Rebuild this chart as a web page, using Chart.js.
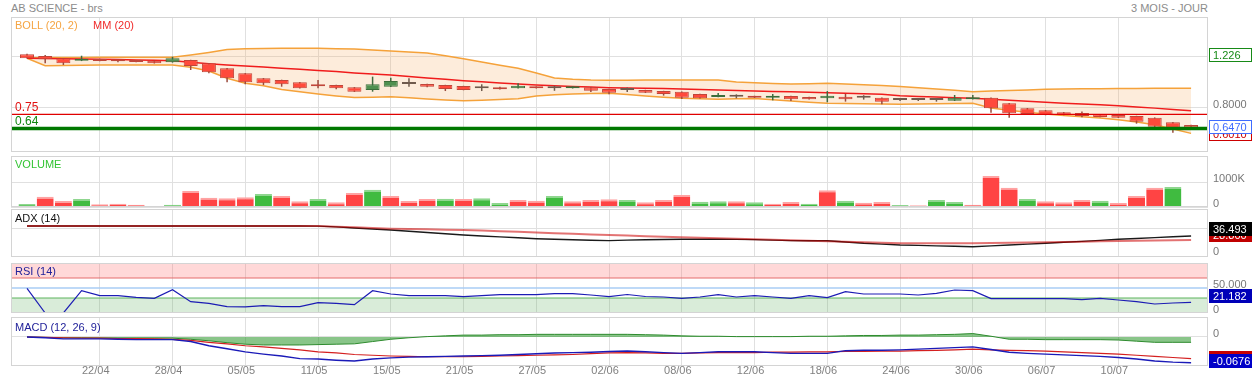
<!DOCTYPE html>
<html>
<head>
<meta charset="utf-8">
<title>AB SCIENCE - brs</title>
<script src="https://cdn.jsdelivr.net/npm/chart.js@4.4.1/dist/chart.umd.min.js"></script>
<style>
  html, body { margin: 0; padding: 0; background: #fff; }
  body { position: relative; width: 1253px; height: 379px; overflow: hidden;
         font-family: "Liberation Sans", Arial, sans-serif; }
  canvas { position: absolute; left: 0; }
  .t { position: absolute; font-size: 11px; line-height: 13px; white-space: nowrap; z-index: 2; }
</style>
</head>
<body>
<canvas id="price"></canvas>
<canvas id="volume"></canvas>
<canvas id="adx"></canvas>
<canvas id="rsi"></canvas>
<canvas id="macd"></canvas>

<div class="t" style="left:11px;top:2px;color:#8c8c8c">AB SCIENCE - brs</div>
<div class="t" style="right:45px;top:2px;color:#8c8c8c">3 MOIS - JOUR</div>
<div class="t" style="left:15px;top:19px;color:#f5a442">BOLL (20, 2)</div>
<div class="t" style="left:93px;top:19px;color:#f02a2a">MM (20)</div>
<div class="t" id="lblRes" style="left:15px;top:100px;font-size:12px;line-height:14px;color:#e01010"></div>
<div class="t" id="lblSup" style="left:15px;top:114px;font-size:12px;line-height:14px;color:#118811"></div>
<div class="t" style="left:15px;top:158px;color:#33c433">VOLUME</div>
<div class="t" style="left:15px;top:212px;color:#111">ADX (14)</div>
<div class="t" style="left:15px;top:265px;color:#22229a">RSI (14)</div>
<div class="t" style="left:15px;top:321px;color:#22229a">MACD (12, 26, 9)</div>

<script>
/* ── Data ──────────────────────────────────────────────── */
const DATES = [
    '16/04','17/04','20/04','21/04','22/04','23/04','24/04','27/04','28/04','29/04','30/04',
    '04/05','05/05','06/05','07/05','08/05','11/05','12/05','13/05','14/05','15/05','18/05','19/05',
    '20/05','21/05','22/05','25/05','26/05','27/05','28/05','29/05',
    '01/06','02/06','03/06','04/06','05/06','08/06','09/06','10/06','11/06','12/06','15/06','16/06',
    '17/06','18/06','19/06','22/06','23/06','24/06','25/06','26/06','29/06','30/06',
    '01/07','02/07','03/07','06/07','07/07','08/07','09/07','10/07','13/07','14/07','15/07','16/07'
];
const DATE_TICKS = [4, 8, 12, 16, 20, 24, 28, 32, 36, 40, 44, 48, 52, 56, 60];

const OPEN  = [1.221,1.208,1.190,1.171,1.184,1.176,1.171,1.171,1.158,1.176,1.151,1.111,1.072,1.033,1.020,1.002,
               0.978,0.980,0.962,0.941,0.967,0.988,0.988,0.980,0.972,0.955,0.959,0.955,0.967,0.955,0.955,0.962,
               0.949,0.941,0.941,0.933,0.928,0.910,0.886,0.889,0.894,0.881,0.894,0.886,0.876,0.889,0.881,0.881,
               0.863,0.863,0.863,0.857,0.868,0.881,0.837,0.798,0.782,0.766,0.761,0.751,0.745,0.737,0.724,0.688,0.667];
const HIGH  = [1.226,1.216,1.192,1.210,1.186,1.178,1.173,1.173,1.202,1.178,1.153,1.113,1.074,1.035,1.022,1.004,
               1.020,0.982,0.964,1.046,1.038,1.033,0.990,0.982,0.974,0.986,0.966,0.994,0.969,0.975,0.970,0.964,
               0.951,0.960,0.943,0.935,0.930,0.912,0.918,0.907,0.896,0.910,0.896,0.888,0.933,0.911,0.900,0.883,
               0.870,0.870,0.876,0.902,0.902,0.883,0.839,0.800,0.784,0.768,0.772,0.753,0.747,0.739,0.726,0.690,0.669];
const LOW   = [1.188,1.151,1.137,1.168,1.166,1.158,1.159,1.149,1.156,1.098,1.072,1.002,0.986,0.980,0.967,0.953,
               0.955,0.947,0.926,0.928,0.965,0.967,0.962,0.933,0.939,0.933,0.945,0.953,0.953,0.935,0.953,0.925,
               0.907,0.925,0.918,0.897,0.871,0.874,0.884,0.876,0.879,0.860,0.855,0.866,0.845,0.850,0.866,0.829,
               0.855,0.855,0.850,0.855,0.866,0.763,0.724,0.751,0.743,0.743,0.727,0.727,0.722,0.677,0.640,0.606,0.645];
const CLOSE = [1.190,1.182,1.151,1.184,1.169,1.166,1.161,1.151,1.190,1.129,1.080,1.033,1.002,0.994,0.986,0.955,
               0.970,0.955,0.928,0.986,1.012,0.988,0.967,0.949,0.941,0.955,0.947,0.975,0.955,0.955,0.967,0.936,
               0.920,0.941,0.920,0.910,0.881,0.876,0.902,0.889,0.881,0.897,0.868,0.868,0.897,0.868,0.881,0.849,
               0.863,0.863,0.863,0.881,0.884,0.798,0.758,0.753,0.745,0.745,0.737,0.729,0.724,0.693,0.653,0.641,0.647];

const BOLL_UP   = [1.195,1.196,1.197,1.197,1.198,1.198,1.198,1.198,1.198,1.215,1.235,1.258,1.264,1.267,1.268,1.268,
                   1.268,1.265,1.263,1.255,1.247,1.240,1.232,1.210,1.187,1.160,1.135,1.111,1.075,1.036,1.025,1.019,
                   1.017,1.018,1.019,1.020,1.020,1.020,1.020,1.004,0.998,0.993,0.988,0.991,0.994,0.988,0.982,0.976,
                   0.969,0.958,0.949,0.939,0.928,0.933,0.938,0.942,0.947,0.949,0.950,0.951,0.952,0.953,0.954,0.955,0.955];
const BOLL_DOWN = [1.190,1.132,1.134,1.136,1.137,1.137,1.137,1.137,1.137,1.120,1.090,1.033,0.994,0.975,0.945,0.928,
                   0.910,0.895,0.882,0.884,0.888,0.880,0.870,0.862,0.856,0.860,0.866,0.872,0.894,0.903,0.910,0.913,
                   0.915,0.905,0.895,0.884,0.876,0.872,0.868,0.872,0.875,0.865,0.855,0.845,0.837,0.835,0.833,0.831,
                   0.829,0.831,0.833,0.835,0.837,0.800,0.782,0.766,0.753,0.742,0.732,0.721,0.708,0.690,0.668,0.636,0.601];
const MM20      = [1.190,1.188,1.186,1.184,1.182,1.180,1.177,1.174,1.170,1.159,1.148,1.138,1.130,1.121,1.112,1.104,
                   1.095,1.086,1.075,1.067,1.059,1.048,1.036,1.025,1.014,1.005,0.997,0.988,0.980,0.975,0.969,0.964,
                   0.959,0.957,0.954,0.952,0.949,0.945,0.941,0.937,0.933,0.930,0.927,0.923,0.920,0.916,0.911,0.907,
                   0.897,0.891,0.886,0.881,0.876,0.868,0.860,0.853,0.845,0.838,0.832,0.825,0.818,0.808,0.799,0.789,0.779];
const RESIST  = 0.75;
const SUPPORT = 0.64;
const PRICE_TICKS = [0.8, 1.2];

const VOLUME_K  = [120,413,240,320,107,133,93,40,93,640,373,347,387,520,440,227,320,187,560,693,440,240,320,333,
                   320,347,160,280,253,440,227,280,307,280,187,280,480,213,227,227,187,133,200,133,667,253,173,200,
                   80,67,280,200,93,1240,773,320,227,187,280,253,160,440,773,800,27];
const VOLUME_UP = [1,0,0,1,0,0,0,0,1,0,0,0,0,1,0,0,1,0,0,1,0,0,0,1,0,1,1,0,0,1,0,0,0,1,0,0,0,1,1,0,
                   1,0,0,1,0,1,0,0,1,0,1,1,0,0,0,1,0,0,0,1,0,0,0,1,1];
const VOLUME_TICKS = [0, 1000];

const ADX     = [55.8,55.8,55.8,55.8,55.8,55.8,55.8,55.8,55.8,55.8,55.8,55.8,55.8,55.8,55.8,55.8,
                 55.6,54.0,51.9,50.0,48.1,45.7,43.2,40.8,38.4,36.6,34.8,33.0,31.3,30.3,29.3,28.4,
                 27.6,28.5,29.2,29.8,30.1,30.1,30.1,30.0,29.5,28.5,27.6,27.4,27.4,24.9,22.4,20.8,
                 19.1,18.3,17.5,16.7,15.8,17.5,19.1,20.8,22.4,24.3,26.2,28.1,30.1,31.7,33.3,34.9,36.493];
const ADX_AVG = [55.8,55.8,55.8,55.8,55.8,55.8,55.8,55.8,55.8,55.8,55.8,55.8,55.8,55.8,55.8,55.8,
                 55.8,54.5,53.2,51.9,50.6,50.0,49.4,48.7,48.1,46.9,45.7,44.5,43.2,42.0,40.8,39.6,
                 38.4,37.3,36.2,35.1,34.0,33.0,32.0,31.0,30.1,29.1,28.2,27.2,26.3,25.3,24.3,23.4,
                 22.4,22.4,22.4,22.4,22.4,22.9,23.4,23.8,24.3,24.9,25.5,26.2,26.8,27.3,27.8,28.3,28.8];
const ADX_TICKS = [0, 50];

const RSI = [49.4,0,0,44.6,34.6,34.6,31.3,29.3,46.7,22.7,19.3,12.7,12.3,14.7,12.7,12.7,20.7,19.3,16.7,44.7,
             38,34.6,34.6,34.6,32.7,34.6,36.7,36.7,36.7,38.7,38.7,36,32.7,37,33,32,29.3,32,36.7,32,
             34.6,32,29.3,34.6,30.7,42.7,38,38,38,36,39.3,46,44.7,28.7,28.7,28.7,28.7,28.7,26.7,29.3,
             26,22.7,18,20,21.182];
const RSI_HIGH = 70, RSI_MID = 50, RSI_LOW = 30;
const RSI_TICKS = [0, 50];

const MACD        = [0,-0.002,-0.005,-0.005,-0.005,-0.006,-0.007,-0.007,-0.007,-0.012,
                     -0.023,-0.031,-0.039,-0.045,-0.05,-0.057,-0.058,-0.061,-0.063,-0.058,
                     -0.055,-0.053,-0.052,-0.051,-0.05,-0.049,-0.048,-0.046,-0.044,-0.042,
                     -0.041,-0.04,-0.038,-0.037,-0.039,-0.041,-0.043,-0.041,-0.039,-0.039,
                     -0.039,-0.041,-0.043,-0.043,-0.043,-0.036,-0.035,-0.035,-0.034,-0.032,
                     -0.03,-0.028,-0.026,-0.033,-0.04,-0.043,-0.045,-0.047,-0.049,-0.051,
                     -0.054,-0.058,-0.063,-0.066,-0.0676];
const MACD_SIGNAL = [0,-0.001,-0.002,-0.003,-0.003,-0.004,-0.004,-0.005,-0.006,-0.009,
                     -0.014,-0.018,-0.023,-0.026,-0.03,-0.034,-0.039,-0.042,-0.046,-0.048,
                     -0.05,-0.051,-0.052,-0.052,-0.052,-0.051,-0.05,-0.049,-0.048,-0.047,
                     -0.046,-0.044,-0.042,-0.041,-0.042,-0.043,-0.043,-0.042,-0.041,-0.041,
                     -0.041,-0.04,-0.04,-0.039,-0.039,-0.038,-0.038,-0.037,-0.037,-0.036,
                     -0.035,-0.034,-0.032,-0.034,-0.035,-0.036,-0.037,-0.039,-0.041,-0.043,
                     -0.045,-0.048,-0.051,-0.054,-0.057];
const MACD_HIST   = [0,-0.001,-0.002,-0.002,-0.003,-0.003,-0.003,-0.003,-0.003,-0.006,
                     -0.01,-0.015,-0.019,-0.021,-0.021,-0.021,-0.02,-0.019,-0.018,-0.012,
                     -0.006,-0.002,0.001,0.003,0.005,0.005,0.006,0.006,0.007,0.007,
                     0.007,0.007,0.007,0.007,0.006,0.005,0.003,0.002,0.002,0.001,
                     0.001,0.001,0.001,0.002,0.002,0.003,0.004,0.004,0.005,0.005,
                     0.006,0.007,0.009,0.002,-0.006,-0.006,-0.007,-0.007,-0.007,-0.007,
                     -0.008,-0.011,-0.014,-0.014,-0.014];
const MACD_TICKS = [0];

/* ── Layout ────────────────────────────────────────────── */
const WIDTH = 1253, AXIS_W = 45, LEFT = 11;
const X_MIN = -0.88, X_MAX = 64.93;
const GRID = '#e0e0e0', FRAME = '#d4d4d4';

Chart.defaults.font.family = '"Liberation Sans", Arial, sans-serif';
Chart.defaults.font.size   = 11;
Chart.defaults.color       = '#777';
Chart.defaults.animation   = false;
Chart.defaults.events      = [];
Chart.defaults.plugins.legend.display  = false;
Chart.defaults.plugins.tooltip.enabled = false;
Chart.defaults.elements.point.radius   = 0;
Chart.defaults.elements.line.tension   = 0;

document.getElementById('lblRes').textContent = RESIST.toFixed(2);
document.getElementById('lblSup').textContent = SUPPORT.toFixed(2);

const idx   = DATES.map((_, i) => i);
const pts   = arr => arr.map((v, i) => ({ x: i, y: v }));
const hline = v => [{ x: X_MIN, y: v }, { x: X_MAX, y: v }];

function place(id, top, bottom, withDates) {
    const c = document.getElementById(id);
    c.width  = WIDTH;
    c.height = (withDates ? 379 : bottom + 1) - (top - 1);
    c.style.top = (top - 1) + 'px';
    return c;
}

function xAxis(withDates) {
    return {
        type : 'linear', min: X_MIN, max: X_MAX, bounds: 'data', offset: false,
        afterBuildTicks : s => { s.ticks = DATE_TICKS.map(v => ({ value: v })); },
        afterFit        : s => {
            s.height = withDates ? 13 : 0;
            s.paddingLeft = 0; s.paddingRight = 0;
        },
        grid   : { color: GRID, drawTicks: false, offset: false },
        border : { display: false },
        ticks  : { display: withDates, autoSkip: false, maxRotation: 0, padding: -2,
                   labelOffset: -4, color: '#808080', callback: v => DATES[v] },
    };
}

function yAxis(min, max, ticks, fmt, gridColor) {
    return {
        position : 'right', min, max,
        afterBuildTicks : s => { s.ticks = ticks.map(v => ({ value: v })); },
        afterFit        : s => {
            s.width = AXIS_W;
            s.paddingTop = 0; s.paddingBottom = 0;   // keep panel height exact
        },
        grid   : { color: gridColor || GRID, drawTicks: false },
        border : { display: false },
        ticks  : { padding: 5, labelOffset: -3, color: '#777', callback: fmt },
    };
}

function options(x, y, withDates) {
    return {
        responsive : false,
        layout : { autoPadding: false, padding: { left: LEFT, right: 0, top: 1, bottom: withDates ? 0 : 1 } },
        scales : { x, y },
    };
}

/* ── Plugins: panel frame and last-value boxes ─────────── */
const frame = {
    id : 'frame',
    afterDatasetsDraw(chart) {
        const { ctx, chartArea: a } = chart;
        ctx.save();
        ctx.strokeStyle = FRAME;
        ctx.lineWidth = 1;
        ctx.strokeRect(a.left + 0.5, a.top + 0.5, a.right - a.left - 1, a.bottom - a.top - 1);
        ctx.restore();
    },
};

function boxes(items) {
    return {
        id : 'valueBoxes',
        afterDraw(chart) {
            const { ctx } = chart;
            const y  = chart.scales.y;
            const x0 = chart.chartArea.right + 1;
            items.forEach(b => {
                const yc = Math.round(y.getPixelForValue(b.value) + b.dy);
                ctx.save();
                ctx.fillStyle = b.fill;
                ctx.fillRect(x0, yc - 7, 43, 14);
                if (b.stroke) {
                    ctx.strokeStyle = b.stroke;
                    ctx.lineWidth = 1;
                    ctx.strokeRect(x0 + 0.5, yc - 6.5, 42, 13);
                }
                ctx.fillStyle = b.color;
                ctx.font = '11px "Liberation Sans", Arial, sans-serif';
                ctx.textBaseline = 'middle';
                ctx.fillText(b.text, x0 + 4, yc + 0.5);
                ctx.restore();
            });
        },
    };
}

/* ── Price panel (candles + Bollinger + MM20) ──────────── */
const dir = i => CLOSE[i] > OPEN[i] ? 1 : CLOSE[i] < OPEN[i] ? -1 : 0;
const bodyFill = i => ({ '1': '#4f9050', '-1': '#ff4a3b', '0': '#6f5a4c' })[dir(i)];
const bodyEdge = i => ({ '1': '#3b6e3b', '-1': '#c0463a', '0': '#6f5a4c' })[dir(i)];
const wickCol  = i => ({ '1': '#3f6b40', '-1': '#9b4a3c', '0': '#6f5a4c' })[dir(i)];
const topHigh  = Math.max(...HIGH);

new Chart(place('price', 17, 152), {
    type : 'bar',
    data : {
        datasets : [
            { type: 'line', data: hline(RESIST),  borderColor: '#e00000', borderWidth: 1.2, order: -2 },
            { type: 'line', data: hline(SUPPORT), borderColor: '#007800', borderWidth: 3.5, order: -1 },
            {
                data            : idx.map(i => ({ x: i, y: [OPEN[i], CLOSE[i]] })),
                backgroundColor : c => bodyFill(c.dataIndex),
                borderColor     : c => bodyEdge(c.dataIndex),
                borderWidth     : 1,
                borderSkipped   : false,
                barThickness    : 14,
                minBarLength    : 2,
                grouped         : false,
                inflateAmount   : 0,
                order           : 0,
            },
            {
                data            : idx.map(i => ({ x: i, y: [LOW[i], HIGH[i]] })),
                backgroundColor : c => wickCol(c.dataIndex),
                barThickness    : 1.5,
                grouped         : false,
                inflateAmount   : 0,
                order           : 1,
            },
            { type: 'line', data: pts(MM20), borderColor: '#f01c1c', borderWidth: 1.5, order: 2 },
            { type: 'line', data: pts(BOLL_UP), borderColor: '#f5a23a', borderWidth: 1.5,
              fill: '+1', backgroundColor: 'rgba(245,170,90,0.22)', order: 4 },
            { type: 'line', data: pts(BOLL_DOWN), borderColor: '#f5a23a', borderWidth: 1.5, order: 3 },
        ],
    },
    options : options(xAxis(false), yAxis(0.4549, 1.5137, PRICE_TICKS, v => v.toFixed(4))),
    plugins : [frame, boxes([
        { value: BOLL_DOWN[64], text: BOLL_DOWN[64].toFixed(4), fill: '#fff', stroke: '#cc0000', color: '#cc0000', dy: 0.5 },
        { value: CLOSE[64], text: CLOSE[64].toFixed(4), fill: '#fff', stroke: '#3f6cff', color: '#3f6cff', dy: -1 },
        { value: topHigh, text: topHigh.toFixed(3), fill: '#fff', stroke: '#178a17', color: '#178a17', dy: 1.3 },
    ])],
});

/* ── Volume panel ──────────────────────────────────────── */
new Chart(place('volume', 156, 207), {
    type : 'bar',
    data : {
        datasets : [{
            data            : pts(VOLUME_K),
            backgroundColor : c => VOLUME_UP[c.dataIndex] ? '#40bb40' : '#ff4444',
            borderColor     : c => VOLUME_UP[c.dataIndex] ? '#8fd68f' : '#ffa3a3',
            borderWidth     : { top: 2, right: 0, bottom: 0, left: 0 },
            barThickness    : 17,
            grouped         : false,
            inflateAmount   : 0,
        }],
    },
    options : options(xAxis(false), yAxis(0, 2040, VOLUME_TICKS, v => v ? v + 'K' : '0')),
    plugins : [frame],
});

/* ── ADX panel ─────────────────────────────────────────── */
new Chart(place('adx', 209, 257), {
    type : 'line',
    data : {
        datasets : [
            { data: pts(ADX_AVG), borderColor: 'rgba(204,0,0,0.55)', borderWidth: 2, order: 0 },
            { data: pts(ADX), borderColor: '#1a1a1a', borderWidth: 1.4, order: 1 },
        ],
    },
    options : options(xAxis(false), yAxis(-4.05, 88.6, ADX_TICKS, v => v === 0 ? '0' : '',
        c => c.tick && c.tick.value === 0 ? 'rgba(0,0,0,0)' : GRID)),
    plugins : [frame, boxes([
        { value: ADX_AVG[64], text: ADX_AVG[64].toFixed(3), fill: '#c00000', color: '#fff', dy: -5 },
        { value: ADX[64], text: ADX[64].toFixed(3), fill: '#000', color: '#fff', dy: -7 },
    ])],
});

/* ── RSI panel ─────────────────────────────────────────── */
new Chart(place('rsi', 263, 313), {
    type : 'line',
    data : {
        datasets : [
            { data: pts(RSI), borderColor: '#1c1cb4', borderWidth: 1.2, order: 0 },
            { data: hline(RSI_MID), borderColor: '#a8cdf5', borderWidth: 1.5, order: 1 },
            { data: hline(RSI_HIGH), borderColor: '#e46a6a', borderWidth: 1,
              fill: { value: 100 }, backgroundColor: 'rgba(255,110,110,0.27)', order: 2 },
            { data: hline(RSI_LOW), borderColor: '#5cb45c', borderWidth: 1,
              fill: 'origin', backgroundColor: 'rgba(80,170,80,0.22)', order: 3 },
        ],
    },
    options : options(xAxis(false), yAxis(0, 100, RSI_TICKS, v => v === 0 ? '0' : v.toFixed(3), 'rgba(0,0,0,0)')),
    plugins : [frame, boxes([
        { value: RSI[64], text: RSI[64].toFixed(3), fill: '#0000b8', color: '#fff', dy: -6 },
    ])],
});

/* ── MACD panel with date axis ─────────────────────────── */
new Chart(place('macd', 317, 366, true), {
    type : 'line',
    data : {
        datasets : [
            { data: pts(MACD), borderColor: '#1a1ab8', borderWidth: 1.4, order: 0 },
            { data: pts(MACD_SIGNAL), borderColor: '#d42020', borderWidth: 1.2, order: 1 },
            { data: pts(MACD_HIST), borderColor: '#2e8b2e', borderWidth: 1,
              fill: { value: 0 }, backgroundColor: 'rgba(40,150,40,0.55)', order: 2 },
        ],
    },
    options : options(xAxis(true), yAxis(-0.0763, 0.0526, MACD_TICKS, v => v === 0 ? '0' : v.toFixed(4)), true),
    plugins : [frame, boxes([
        { value: MACD_SIGNAL[64], text: MACD_SIGNAL[64].toFixed(4), fill: '#c80000', color: '#fff', dy: -1 },
        { value: MACD[64], text: MACD[64].toFixed(4), fill: '#0000c8', color: '#fff', dy: -1.5 },
    ])],
});
</script>
</body>
</html>
